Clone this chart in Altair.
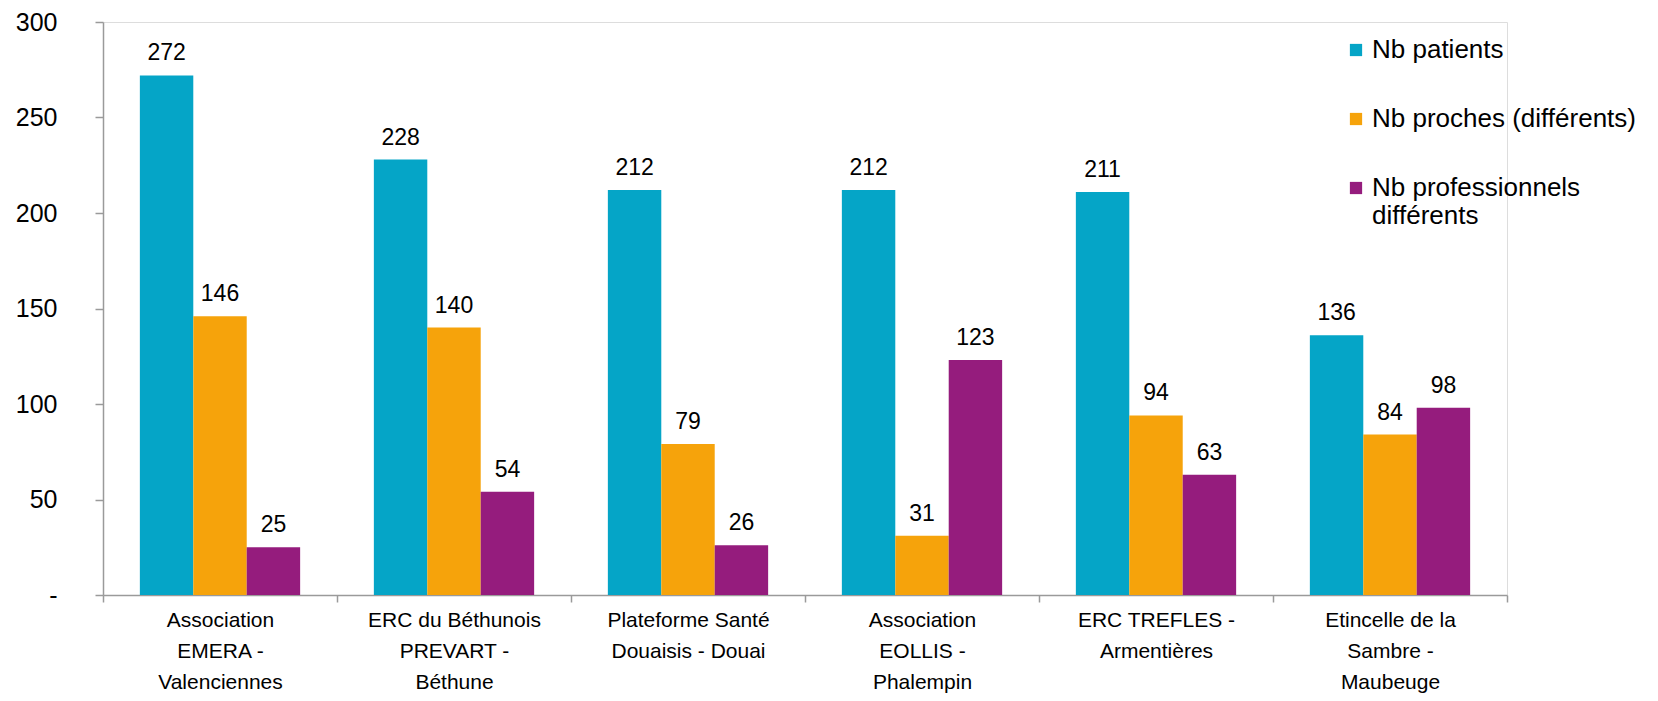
import altair as alt
import pandas as pd

categories = [
    "Association\nEMERA -\nValenciennes",
    "ERC du Béthunois\nPREVART -\nBéthune",
    "Plateforme Santé\nDouaisis - Douai",
    "Association\nEOLLIS -\nPhalempin",
    "ERC TREFLES -\nArmentières",
    "Etincelle de la\nSambre -\nMaubeuge",
]
series = ["Nb patients", "Nb proches (différents)", "Nb professionnels\ndifférents"]
nb_patients = [272, 228, 212, 212, 211, 136]
nb_proches = [146, 140, 79, 31, 94, 84]
nb_professionnels = [25, 54, 26, 123, 63, 98]
colors = ["#05A5C7", "#F6A30B", "#951C7D"]
y_ticks = [0, 50, 100, 150, 200, 250, 300]

rows = []
for s, vals in zip(series, [nb_patients, nb_proches, nb_professionnels]):
    for c, v in zip(categories, vals):
        rows.append({"structure": c, "serie": s, "valeur": v})
df = pd.DataFrame(rows)

x_enc = alt.X(
    "structure:N",
    sort=categories,
    scale=alt.Scale(paddingInner=0, paddingOuter=0),
    axis=alt.Axis(
        title=None,
        labelAngle=0,
        labelExpr="split(datum.label, '\\n')",
        labelFont="Liberation Sans",
        labelFontSize=21,
        labelLineHeight=31,
        labelColor="#000000",
        labelPadding=7,
        labelBaseline="top",
        tickBand="extent",
        tickSize=7,
        tickColor="#9A9A9A",
        tickWidth=1.5,
        domainColor="#9A9A9A",
        domainWidth=1.5,
        labelLimit=400,
    ),
)

bars = alt.Chart(df).mark_bar().encode(
    x=x_enc,
    xOffset=alt.XOffset(
        "serie:N",
        sort=series,
        scale=alt.Scale(paddingInner=0, paddingOuter=0.69),
    ),
    y=alt.Y(
        "valeur:Q",
        scale=alt.Scale(domain=[0, 300], nice=False),
        axis=alt.Axis(
            title=None,
            values=y_ticks,
            grid=False,
            labelExpr="datum.value == 0 ? '-' : datum.label",
            labelFont="Liberation Sans",
            labelFontSize=25,
            labelColor="#000000",
            labelPadding=38,
            tickSize=8,
            tickColor="#9A9A9A",
            tickWidth=1.5,
            domainColor="#9A9A9A",
            domainWidth=1.5,
        ),
    ),
    color=alt.Color(
        "serie:N",
        sort=series,
        scale=alt.Scale(domain=series, range=colors),
        legend=alt.Legend(
            title=None,
            orient="none",
            legendX=1240,
            legendY=15,
            symbolType="square",
            symbolSize=150,
            symbolStrokeWidth=0,
            labelFont="Liberation Sans",
            labelFontSize=26,
            labelColor="#000000",
            labelOffset=3,
            rowPadding=43,
            labelExpr="split(datum.label, '\\n')",
            labelLimit=400,
            padding=0,
        ),
    ),
)

labels = alt.Chart(df).mark_text(
    font="Liberation Sans",
    fontSize=23,
    color="#000000",
    baseline="alphabetic",
    dy=-15,
).encode(
    x=alt.X("structure:N", sort=categories),
    xOffset=alt.XOffset("serie:N", sort=series),
    y=alt.Y("valeur:Q"),
    text=alt.Text("valeur:Q"),
)

chart = (
    alt.layer(bars, labels)
    .properties(
        width=1404,
        height=573,
        autosize=alt.AutoSizeParams(type="none"),
        padding={"left": 95, "top": 14, "right": 143, "bottom": 98},
    )
    .configure_view(stroke=None)
    .configure(background="#FFFFFF")
)

chart.save("out.html", embed_options={"renderer": "svg", "actions": False})
